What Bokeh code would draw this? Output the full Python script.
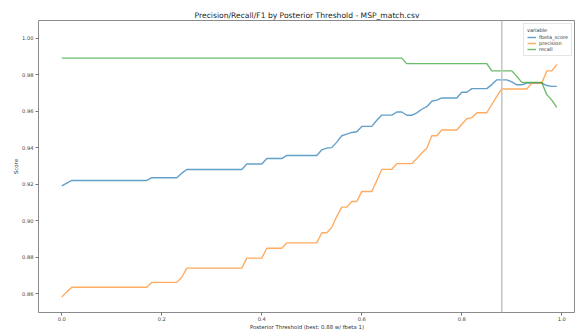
from bokeh.plotting import figure
from bokeh.models import FixedTicker, PrintfTickFormatter, Span, Legend, LegendItem
from bokeh.embed import file_html
from bokeh.resources import INLINE

thresholds = [round(i * 0.01, 2) for i in range(100)]

fbeta_score = [
    0.919, 0.9205, 0.922, 0.922, 0.922, 0.922, 0.922, 0.922, 0.922, 0.922,
    0.922, 0.922, 0.922, 0.922, 0.922, 0.922, 0.922, 0.922, 0.9235, 0.9235,
    0.9235, 0.9235, 0.9235, 0.9235, 0.926, 0.928, 0.928, 0.928, 0.928, 0.928,
    0.928, 0.928, 0.928, 0.928, 0.928, 0.928, 0.928, 0.931, 0.931, 0.931,
    0.931, 0.934, 0.934, 0.934, 0.934, 0.9357, 0.9357, 0.9357, 0.9357, 0.9357,
    0.9357, 0.9357, 0.9388, 0.9397, 0.9400, 0.943, 0.9465, 0.9474, 0.9483, 0.9487,
    0.9516, 0.9516, 0.9516, 0.955, 0.9578, 0.9578, 0.9578, 0.9595, 0.9595, 0.9577,
    0.9577, 0.959, 0.961, 0.9624, 0.9654, 0.966, 0.9672, 0.9672, 0.9672, 0.9672,
    0.9703, 0.9703, 0.9723, 0.9723, 0.9723, 0.9723, 0.9745, 0.9771, 0.9771, 0.9771,
    0.976, 0.9744, 0.9744, 0.9753, 0.9753, 0.9753, 0.9753, 0.974, 0.9735, 0.9735,
]

precision = [
    0.8582, 0.861, 0.8635, 0.8635, 0.8635, 0.8635, 0.8635, 0.8635, 0.8635, 0.8635,
    0.8635, 0.8635, 0.8635, 0.8635, 0.8635, 0.8635, 0.8635, 0.8635, 0.8662, 0.8662,
    0.8662, 0.8662, 0.8662, 0.8662, 0.869, 0.874, 0.874, 0.874, 0.874, 0.874,
    0.874, 0.874, 0.874, 0.874, 0.874, 0.874, 0.874, 0.8795, 0.8795, 0.8795,
    0.8795, 0.8849, 0.8849, 0.8849, 0.8849, 0.8878, 0.8878, 0.8878, 0.8878, 0.8878,
    0.8878, 0.8878, 0.8934, 0.8934, 0.8964, 0.9024, 0.9074, 0.9074, 0.9105, 0.9105,
    0.916, 0.916, 0.916, 0.922, 0.9281, 0.9281, 0.9281, 0.9312, 0.9312, 0.9312,
    0.9312, 0.934, 0.937, 0.9397, 0.9465, 0.9465, 0.9496, 0.9496, 0.9496, 0.9496,
    0.9528, 0.9558, 0.9564, 0.9591, 0.9591, 0.9591, 0.9636, 0.968, 0.9721, 0.9721,
    0.9721, 0.9721, 0.9721, 0.9721, 0.9753, 0.9753, 0.9753, 0.982, 0.982, 0.9855,
]

recall = [0.989] * 69 + [0.986] * 17 + [
    0.982, 0.982, 0.982, 0.982, 0.982, 0.979, 0.9757, 0.9757, 0.9757, 0.9757,
    0.9757, 0.969, 0.966, 0.962,
]

best_threshold = 0.88
title_text = "Precision/Recall/F1 by Posterior Threshold - MSP_match.csv"
x_label = "Posterior Threshold (best: 0.88 w/ fbeta 1)"
y_label = "Score"
x_ticks = [0.0, 0.2, 0.4, 0.6, 0.8, 1.0]
y_ticks = [0.86, 0.88, 0.90, 0.92, 0.94, 0.96, 0.98, 1.00]

FONT = "DejaVu Sans"

p = figure(width=575, height=332, output_backend="svg", toolbar_location=None,
           x_range=(-0.0466, 1.0274), y_range=(0.8497, 1.0096),
           min_border_left=38, min_border_right=0, min_border_top=20, min_border_bottom=17)

p.title.text = title_text
p.title.align = "center"
p.title.text_font = FONT
p.title.text_font_size = "7.6px"
p.title.text_font_style = "normal"
p.title.text_color = "#222222"
p.title.standoff = 2
p.title.offset = 0

p.xgrid.visible = False
p.ygrid.visible = False
p.outline_line_color = "#8a8a8a"
p.outline_line_width = 1
p.background_fill_color = "white"

for ax in (p.xaxis[0], p.yaxis[0]):
    ax.axis_line_color = None
    ax.major_tick_line_color = "#777777"
    ax.major_tick_out = 3
    ax.major_tick_in = 0
    ax.minor_tick_line_color = None
    ax.major_label_text_font = FONT
    ax.major_label_text_font_size = "5.2px"
    ax.major_label_text_color = "#444444"
    ax.axis_label_text_font = FONT
    ax.axis_label_text_font_size = "5.4px"
    ax.axis_label_text_font_style = "normal"
    ax.axis_label_text_color = "#333333"

p.xaxis.major_label_standoff = 1
p.xaxis.axis_label_standoff = 0
p.yaxis.major_label_standoff = 2
p.yaxis.axis_label_standoff = 0

p.xaxis.ticker = FixedTicker(ticks=x_ticks)
p.xaxis.formatter = PrintfTickFormatter(format="%.1f")
p.yaxis.ticker = FixedTicker(ticks=y_ticks)
p.yaxis.formatter = PrintfTickFormatter(format="%.2f")
p.xaxis.axis_label = x_label
p.yaxis.axis_label = y_label

r1 = p.line(thresholds, fbeta_score, line_color="#1f77b4", line_width=1.4, line_alpha=0.7)
r2 = p.line(thresholds, precision, line_color="#ff7f0e", line_width=1.4, line_alpha=0.65)
r3 = p.line(thresholds, recall, line_color="#2ca02c", line_width=1.4, line_alpha=0.7)

p.add_layout(Span(location=best_threshold, dimension="height", line_color="#c4c4c4", line_width=1.5))

legend = Legend(items=[LegendItem(label="fbeta_score", renderers=[r1]),
                       LegendItem(label="precision", renderers=[r2]),
                       LegendItem(label="recall", renderers=[r3])],
                location="top_right")
legend.title = "variable"
legend.title_text_font = FONT
legend.title_text_font_size = "5px"
legend.title_text_font_style = "normal"
legend.title_text_color = "#333333"
legend.title_standoff = 1
legend.label_text_font = FONT
legend.label_text_font_size = "5px"
legend.label_text_color = "#333333"
legend.label_height = 6
legend.label_standoff = 3
legend.glyph_width = 9
legend.glyph_height = 6
legend.spacing = 0
legend.padding = 3
legend.margin = 3
legend.border_line_color = "#cccccc"
legend.background_fill_alpha = 0.9
p.add_layout(legend)

open("out.html", "w").write(file_html(p, INLINE))
